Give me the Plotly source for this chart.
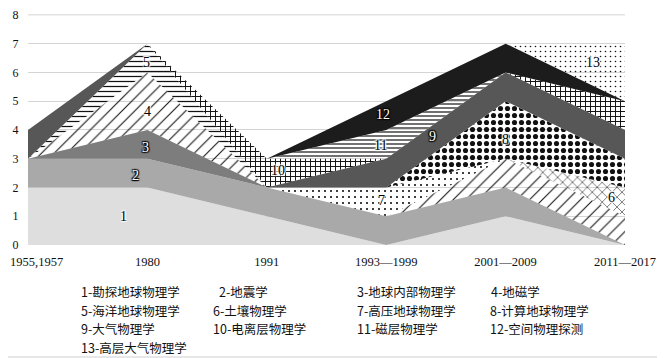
import plotly.graph_objects as go

categories = ["1955,1957", "1980", "1991", "1993—1999", "2001—2009", "2011—2017"]

s1 = [2, 2, 1, 0, 1, 0]
s2 = [1, 1, 1, 1, 1, 0]
s3 = [0, 1, 0, 0, 0, 0]
s4 = [0, 2, 0, 0, 1, 1]
s5 = [0, 1, 0, 0, 0, 0]
s6 = [0, 0, 0, 0, 0, 1]
s7 = [0, 0, 0, 1, 0, 0]
s8 = [0, 0, 0, 0, 2, 1]
s9 = [1, 0, 0, 1, 1, 1]
s10 = [0, 0, 1, 0, 0, 1]
s11 = [0, 0, 0, 1, 0, 0]
s12 = [0, 0, 0, 1, 1, 0]
s13 = [0, 0, 0, 0, 0, 2]

names = ["勘探地球物理学", "地震学", "地球内部物理学", "地磁学", "海洋地球物理学", "土壤物理学",
         "高压地球物理学", "计算地球物理学", "大气物理学", "电离层物理学", "磁层物理学",
         "空间物理探测", "高层大气物理学"]
series = [s1, s2, s3, s4, s5, s6, s7, s8, s9, s10, s11, s12, s13]

# styles: (solid fill colour or None, pattern shape, pattern size, solidity)
styles = [
    ("#dedede", None, None, None),
    ("#a9a9a9", None, None, None),
    ("#7d7d7d", None, None, None),
    (None, "/", 9, 0.12),
    (None, "-", 5, 0.25),
    (None, "x", 7, 0.15),
    (None, ".", 6, 0.1),
    (None, ".", 7, 0.42),
    ("#575757", None, None, None),
    (None, "+", 5, 0.35),
    (None, "-", 4, 0.3),
    ("#1c1c1c", None, None, None),
    (None, ".", 5, 0.08),
]

# page body adds an 8px offset; layout is given in screen pixels then shifted
OFF = 8
W, H = 665, 358
L, R, T, B = 28 - OFF, W - (625 - OFF), 6, H - (245 - OFF)
pw, ph = W - L - R, H - T - B


def px(x):
    return (x - OFF - L) / pw


def py(y):
    return (H - B - (y - OFF)) / ph


xs = list(range(len(categories)))
fig = go.Figure()
for i, (vals, st) in enumerate(zip(series, styles)):
    color, shape, size, sol = st
    kw = dict(x=xs, y=vals, name=f"{i+1}-{names[i]}", stackgroup="one",
              mode="lines", line=dict(width=0), showlegend=False, hoverinfo="skip")
    if color:
        kw["fillcolor"] = color
    else:
        kw["fillcolor"] = "rgba(255,255,255,0)"
        kw["fillpattern"] = dict(shape=shape, fgcolor="#111111", bgcolor="rgba(255,255,255,0)",
                                 size=size, solidity=sol, fillmode="replace")
    fig.add_trace(go.Scatter(**kw))

# in-area labels
label_pos = [(0.80, 1.0), (0.90, 2.42), (0.98, 3.4), (1.0, 4.64), (0.99, 6.35), (4.89, 1.65),
             (2.96, 1.55), (4.0, 3.66), (3.39, 3.76), (2.09, 2.59), (2.95, 3.46), (2.97, 4.54),
             (4.73, 6.35)]
white = {2, 3, 9, 12}
for i, (lx, ly) in enumerate(label_pos):
    n = i + 1
    fig.add_annotation(x=lx, y=ly, text=str(n), showarrow=False,
                       font=dict(family="Liberation Serif", size=14,
                                 color="white" if n in white else "black",
                                 shadow=("1px 1px 1px #000, -1px -1px 1px #000, 1px -1px 1px #000, -1px 1px 1px #000"
                                         if n in white else
                                         "1px 1px 1px #fff, -1px -1px 1px #fff, 1px -1px 1px #fff, -1px 1px 1px #fff")))

# first category label would be hidden past the page edge: draw it left-aligned
fig.add_annotation(xref="paper", yref="paper", x=px(8), y=py(262),
                   xanchor="left", yanchor="middle", showarrow=False,
                   text=categories[0],
                   font=dict(family="Liberation Serif", size=12.5, color="#111"))

# legend as a text block (screen positions)
leg_x = [79, 217, 355, 489, 79, 211, 355, 488, 79, 211, 355, 488, 79]
row_y = [291, 310, 328, 347]
for i, nm in enumerate(names):
    r = i // 4
    fig.add_annotation(xref="paper", yref="paper",
                       x=px(leg_x[i]), y=py(row_y[r]),
                       xanchor="left", yanchor="middle", showarrow=False,
                       text=f"{i+1}-{nm}",
                       font=dict(family="Noto Sans CJK SC", size=12.5, color="#111"))

# top gridline (plotly may drop the one on the plot edge)
fig.add_shape(type="line", xref="paper", yref="y", x0=0, x1=1, y0=8, y1=8,
              line=dict(color="#d4d4d4", width=1), layer="below")

# picture frame lines (right & bottom)
fig.add_shape(type="line", xref="paper", yref="paper",
              x0=px(663), x1=px(663), y0=py(357), y1=py(0),
              line=dict(color="#cfcfcf", width=1))
fig.add_shape(type="line", xref="paper", yref="paper",
              x0=px(0), x1=px(663), y0=py(357), y1=py(357),
              line=dict(color="#cfcfcf", width=1))

ticktext = [""] + categories[1:]

fig.update_layout(
    width=W, height=H,
    margin=dict(l=L, r=R, t=T, b=B, autoexpand=False),
    paper_bgcolor="white", plot_bgcolor="white",
    xaxis=dict(tickmode="array", tickvals=xs, ticktext=ticktext, range=[0, 5],
               showgrid=False, zeroline=False, showline=False, automargin=False,
               ticklabeloverflow="allow",
               ticks="outside", ticklen=5, tickcolor="rgba(0,0,0,0)",
               tickfont=dict(family="Liberation Serif", size=12.5, color="#111")),
    yaxis=dict(range=[0, 8.03], tickmode="array", tickvals=list(range(9)), showgrid=True,
               gridcolor="#d4d4d4", gridwidth=1,
               zeroline=False, showline=False, automargin=False,
               ticklabeloverflow="allow",
               ticks="outside", ticklen=6, tickcolor="rgba(0,0,0,0)",
               tickfont=dict(family="Liberation Serif", size=12, color="#111")),
)

fig.write_html("out.html")
